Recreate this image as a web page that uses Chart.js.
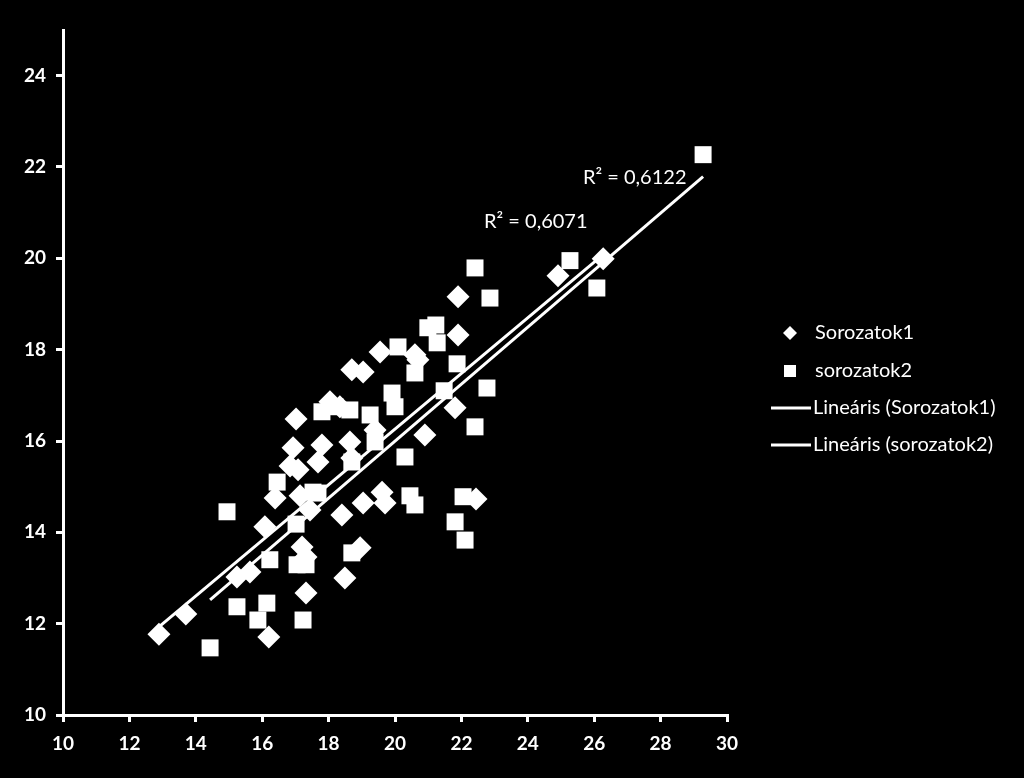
<!DOCTYPE html>
<html>
<head>
<meta charset="utf-8">
<script src="https://cdn.jsdelivr.net/npm/chart.js@4/dist/chart.umd.min.js"></script>
<style>
html,body{margin:0;padding:0;background:#000;}
#wrap{position:relative;width:1024px;height:778px;}
</style>
</head>
<body>
<div id="wrap"><canvas id="c" width="1024" height="778"></canvas></div>
<script>
// Series 1 (diamonds)
const s1x = [12.89,13.70,15.24,15.63,16.20,16.08,16.39,17.02,16.93,16.84,17.20,17.32,17.32,17.14,17.68,17.80,18.04,18.34,18.70,19.04,18.49,18.40,18.64,18.70,19.04,18.95,19.55,19.40,19.61,19.70,20.60,20.69,20.90,21.90,21.90,21.81,22.44,24.91,26.27,17.44,17.08];
const s1y = [11.77,12.21,13.02,13.13,11.71,14.12,14.75,16.48,15.85,15.45,13.68,13.46,12.67,14.80,15.54,15.91,16.86,16.75,17.56,17.51,13.00,14.38,15.98,15.63,14.64,13.66,17.95,16.24,14.88,14.64,17.89,17.78,16.13,19.16,18.32,16.73,14.73,19.62,19.99,14.49,15.37];
// Series 2 (squares)
const s2x = [14.43,14.94,15.24,15.87,16.14,16.23,16.45,17.02,17.05,17.23,17.32,17.68,17.80,18.19,18.70,18.70,19.25,19.40,19.91,20.09,20.00,20.30,20.45,20.60,20.60,20.99,21.23,21.27,21.48,21.81,21.87,22.05,22.11,22.41,22.41,22.77,22.86,25.27,26.08,29.28,17.53,18.64];
const s2y = [11.47,14.45,12.37,12.08,12.45,13.40,15.10,14.18,13.29,12.08,13.29,14.86,16.64,16.75,13.55,15.54,16.57,15.98,17.05,18.06,16.75,15.65,14.80,14.60,17.49,18.48,18.54,18.15,17.10,14.23,17.69,14.78,13.83,19.79,16.31,17.16,19.13,19.95,19.35,22.27,14.88,16.68];
// Linear trendlines (endpoints)
const t1x = [12.89, 26.27];
const t1y = [11.93, 20.08];
const t2x = [14.43, 29.28];
const t2y = [12.52, 21.79];
// R² labels
const r2Labels = ["R² = 0,6122", "R² = 0,6071"];
const r2X = [25.66, 22.68];
const r2Y = [21.76, 20.80];
// Legend
const legendLabels = ["Sorozatok1", "sorozatok2", "Lineáris (Sorozatok1)", "Lineáris (sorozatok2)"];
// Ticks
const xTicks = [10,12,14,16,18,20,22,24,26,28,30];
const yTicks = [10,12,14,16,18,20,22,24];

const pts = (xs, ys) => xs.map((x, i) => ({x: x, y: ys[i]}));

const extras = {
  id: 'extras',
  afterDraw(chart) {
    const ctx = chart.ctx;
    const xs = chart.scales.x, ys = chart.scales.y;
    ctx.save();
    ctx.fillStyle = '#fff';
    ctx.font = '20px Lato';
    ctx.textAlign = 'left';
    ctx.textBaseline = 'middle';
    r2Labels.forEach((t, i) => {
      ctx.fillText(t, xs.getPixelForValue(r2X[i]), ys.getPixelForValue(r2Y[i]));
    });
    // legend
    const rows = [333, 371, 408, 445];
    ctx.beginPath();
    ctx.moveTo(790, 333 - 7); ctx.lineTo(797, 333); ctx.lineTo(790, 333 + 7); ctx.lineTo(783, 333);
    ctx.closePath(); ctx.fill();
    ctx.fillRect(784, 371 - 6, 12, 12);
    ctx.strokeStyle = '#fff';
    ctx.lineWidth = 3;
    [408, 445].forEach(y => {
      ctx.beginPath(); ctx.moveTo(771, y); ctx.lineTo(811, y); ctx.stroke();
    });
    ctx.fillText(legendLabels[0], 815, rows[0]);
    ctx.fillText(legendLabels[1], 815, rows[1]);
    ctx.fillText(legendLabels[2], 813, rows[2]);
    ctx.fillText(legendLabels[3], 813, rows[3]);
    ctx.restore();
  }
};

new Chart(document.getElementById('c'), {
  type: 'scatter',
  data: {
    datasets: [
      {label: legendLabels[0], data: pts(s1x, s1y), pointStyle: 'rectRot', pointRadius: 11.5, backgroundColor: '#fff', borderColor: '#fff', borderWidth: 0, order: 3},
      {label: legendLabels[1], data: pts(s2x, s2y), pointStyle: 'rect', pointRadius: 12, backgroundColor: '#fff', borderColor: '#fff', borderWidth: 0, order: 2},
      {label: legendLabels[2], type: 'line', data: pts(t1x, t1y), showLine: true, pointRadius: 0, borderColor: '#fff', borderWidth: 3, fill: false, order: 1},
      {label: legendLabels[3], type: 'line', data: pts(t2x, t2y), showLine: true, pointRadius: 0, borderColor: '#fff', borderWidth: 3, fill: false, order: 0}
    ]
  },
  options: {
    responsive: false,
    animation: false,
    layout: {padding: {top: 30, right: 297, left: 0, bottom: 0}},
    plugins: {legend: {display: false}, tooltip: {enabled: false}},
    scales: {
      x: {
        type: 'linear', min: 10, max: 30,
        afterBuildTicks: s => { s.ticks = xTicks.map(v => ({value: v})); },
        afterFit: s => { s.height = 63; },
        grid: {display: true, drawOnChartArea: false, drawTicks: true, tickLength: 7, color: '#fff', lineWidth: 3},
        border: {display: true, color: '#fff', width: 3},
        ticks: {color: '#fff', font: {family: 'Lato', weight: 'bold', size: 19}, padding: 10, maxRotation: 0}
      },
      y: {
        type: 'linear', min: 10, max: 25,
        afterBuildTicks: s => { s.ticks = yTicks.map(v => ({value: v})); },
        afterFit: s => { s.width = 63; },
        grid: {display: true, drawOnChartArea: false, drawTicks: true, tickLength: 7, color: '#fff', lineWidth: 3},
        border: {display: true, color: '#fff', width: 3},
        ticks: {color: '#fff', font: {family: 'Lato', weight: 'bold', size: 19}, padding: 10}
      }
    }
  },
  plugins: [extras]
});
</script>
</body>
</html>
